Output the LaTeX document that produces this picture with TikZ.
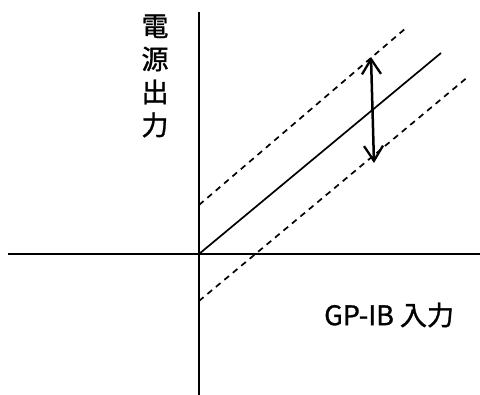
\documentclass[tikz,border=0pt]{standalone}
\usepackage{fontspec}
\newfontfamily\jpfont[FakeBold=1.2]{Noto Sans CJK JP}
\usetikzlibrary{arrows.meta}
\tikzset{
  axis/.style={line width=2.2pt},
  mainline/.style={line width=1.7pt},
  bandline/.style={line width=1.7pt, dash pattern=on 6pt off 5pt},
  rangearrow/.style={line width=2.5pt, {Straight Barb[length=15pt,width=19pt,line width=2.3pt]}-{Straight Barb[length=15pt,width=19pt,line width=2.3pt]}},
  lbl/.style={font=\jpfont\fontsize{27}{33}\selectfont, inner sep=0pt}
}
\begin{document}
\begin{tikzpicture}[x=1pt,y=-1pt]
\useasboundingbox (0,0) rectangle (480,395);
\coordinate (O) at (199,254);
\coordinate (xl) at (8,254);
\coordinate (xr) at (480,254);
\coordinate (yt) at (199,12);
\coordinate (yb) at (199,395);
\coordinate (s1) at (441,53);
\coordinate (u0) at (199,205);
\coordinate (u1) at (406,28);
\coordinate (l0) at (199,301);
\coordinate (l1) at (469,76);
\coordinate (a1) at (371,57);
\coordinate (a2) at (374,163);
\draw[axis] (xl) -- (xr);
\draw[axis] (yt) -- (yb);
\draw[mainline] (O) -- (s1);
\draw[bandline] (u0) -- (u1);
\draw[bandline] (l0) -- (l1);
\draw[rangearrow] (a1) -- (a2);
\node[lbl, align=center] (ylabel) at (155,76) {電\\源\\出\\力};
\node[lbl, anchor=west] (xlabel) at (324,315) {GP-IB 入力};
\end{tikzpicture}
\end{document}
